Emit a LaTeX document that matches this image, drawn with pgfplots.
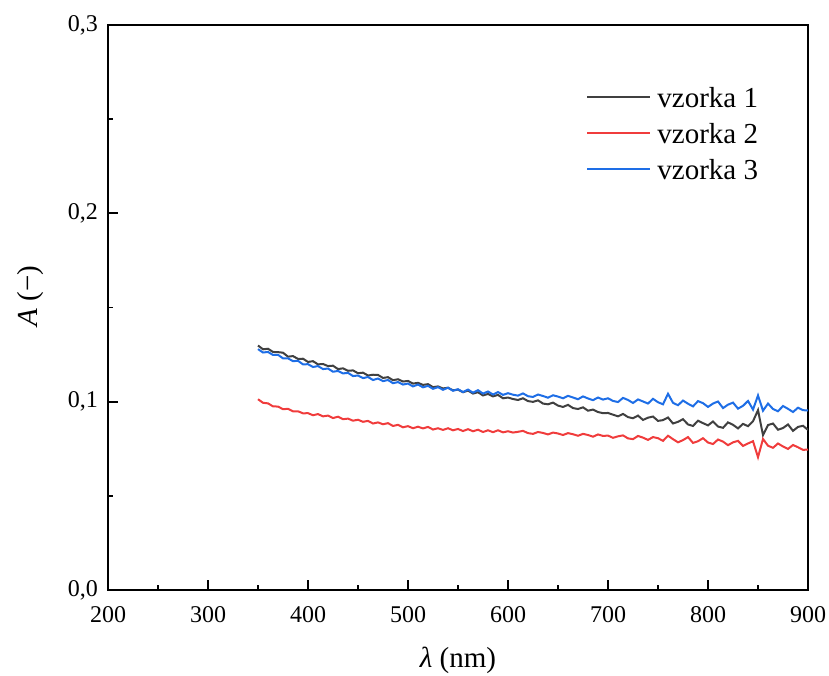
\documentclass[border=0pt]{standalone}
\usepackage{fontspec}
\setmainfont{Liberation Serif}
\usepackage{pgfplots}
\pgfplotsset{compat=1.18}
\usepackage{pgfplotstable}
\usetikzlibrary{calc}
\definecolor{cA}{RGB}{64,64,64}
\definecolor{cB}{RGB}{240,60,60}
\definecolor{cC}{RGB}{30,110,230}

\pgfplotstableread{
x a b c
350 .1298 .1013 .1279
355 .1278 .0994 .1261
360 .1281 .0991 .1264
365 .1264 .0975 .1248
370 .1263 .0974 .1249
375 .1260 .0960 .1230
380 .1239 .0962 .1230
385 .1242 .0949 .1215
390 .1227 .0949 .1217
395 .1228 .0938 .1198
400 .1211 .0939 .1199
405 .1215 .0928 .1184
410 .1198 .0934 .1189
415 .1200 .0922 .1173
420 .1189 .0926 .1176
425 .1191 .0913 .1159
430 .1173 .0920 .1163
435 .1177 .0907 .1150
440 .1164 .0910 .1153
445 .1166 .0899 .1136
450 .1151 .0904 .1139
455 .1154 .0893 .1125
460 .1139 .0898 .1131
465 .1143 .0884 .1115
470 .1142 .0890 .1123
475 .1126 .0880 .1109
480 .1130 .0886 .1115
485 .1114 .0871 .1098
490 .1119 .0877 .1104
495 .1107 .0864 .1091
500 .1110 .0870 .1096
505 .1096 .0859 .1081
510 .1100 .0867 .1091
515 .1089 .0858 .1076
520 .1093 .0866 .1084
525 .1077 .0852 .1068
530 .1081 .0859 .1077
535 .1070 .0850 .1063
540 .1074 .0859 .1074
545 .1060 .0848 .1058
550 .1064 .0855 .1066
555 .1050 .0844 .1051
560 .1059 .0854 .1064
565 .1043 .0843 .1048
570 .1050 .0851 .1061
575 .1033 .0839 .1043
580 .1041 .0848 .1054
585 .1028 .0838 .1038
590 .1036 .0848 .1051
595 .1018 .0837 .1036
600 .1022 .0843 .1045
605 .1014 .0836 .1037
610 .1009 .0840 .1032
615 .1018 .0845 .1044
620 .1003 .0833 .1029
625 .0999 .0829 .1025
630 .1007 .0839 .1038
635 .0990 .0834 .1030
640 .0986 .0826 .1021
645 .0995 .0836 .1034
650 .0979 .0831 .1027
655 .0972 .0823 .1018
660 .0983 .0833 .1031
665 .0966 .0827 .1022
670 .0961 .0819 .1013
675 .0970 .0829 .1028
680 .0952 .0823 .1017
685 .0958 .0814 .1008
690 .0945 .0826 .1022
695 .0939 .0818 .1011
700 .0940 .0820 .1018
705 .0931 .0808 .1004
710 .0922 .0816 .0998
715 .0935 .0821 .1020
720 .0918 .0805 .1009
725 .0912 .0801 .0993
730 .0926 .0818 .1012
735 .0903 .0809 .1001
740 .0915 .0797 .0990
745 .0921 .0812 .1015
750 .0898 .0806 .0997
755 .0902 .0792 .0986
760 .0916 .0819 .1042
765 .0884 .0801 .0994
770 .0893 .0784 .0981
775 .0907 .0796 .1006
780 .0879 .0812 .0989
785 .0871 .0781 .0975
790 .0899 .0790 .1003
795 .0886 .0806 .0992
800 .0874 .0783 .0972
805 .0895 .0775 .0990
810 .0868 .0799 .1001
815 .0861 .0788 .0966
820 .0890 .0769 .0984
825 .0877 .0784 .0995
830 .0858 .0792 .0963
835 .0882 .0765 .0978
840 .0870 .0778 .1004
845 .0896 .0790 .0958
850 .0955 .0705 .1033
855 .0822 .0802 .0952
860 .0876 .0766 .0990
865 .0884 .0755 .0961
870 .0851 .0778 .0949
875 .0860 .0762 .0977
880 .0879 .0749 .0962
885 .0845 .0770 .0945
890 .0866 .0758 .0968
895 .0872 .0744 .0955
900 .0850 .0746 .0953
}\data

\begin{document}
\begin{tikzpicture}
\begin{axis}[
  name=ax,
  scale only axis,
  width=350pt, height=282.5pt,
  xmin=200, xmax=900, ymin=0, ymax=0.3,
  xtick={200,300,...,900},
  ytick={0,0.1,0.2,0.3},
  minor x tick num=1, minor y tick num=1,
  tick align=inside,
  xtick pos=left, ytick pos=left,
  major tick length=5pt, minor tick length=2.5pt,
  axis line style={line width=1pt},
  every tick/.style={line width=0.9pt, black},
  tick label style={font=\fontsize{12}{14}\selectfont},
  /pgf/number format/assume math mode=true,
  /pgf/number format/1000 sep={},
  yticklabel={\pgfmathprintnumber[fixed, fixed zerofill, precision=1, use comma]{\tick}},
  xlabel={{\itshape λ} (nm)},
  ylabel={{\itshape A} (−)},
  every axis x label/.style={at={(rel axis cs:0.5,0)}, anchor=center, yshift=-35pt, font=\fontsize{14.5}{16}\selectfont},
  every axis y label/.style={at={(rel axis cs:0,0.52)}, xshift=-28.5pt, rotate=90, anchor=south, font=\fontsize{14.5}{16}\selectfont},
  every x tick label/.append style={yshift=-4.5pt},
  every y tick label/.append style={xshift=-1.5pt},
]
\addplot[cA, line width=1pt] table[x=x, y=a] {\data};
\addplot[cB, line width=1pt] table[x=x, y=b] {\data};
\addplot[cC, line width=1pt] table[x=x, y=c] {\data};
\end{axis}
\begin{scope}[shift={(ax.south west)}, font=\fontsize{14.5}{16}\selectfont]
  \draw[cA, line width=1pt] (239.5pt,246.5pt) -- (271pt,246.5pt);
  \node[anchor=base west, inner sep=0pt] at (274.5pt,241pt) {vzorka 1};
  \draw[cB, line width=1pt] (239.5pt,228.5pt) -- (271pt,228.5pt);
  \node[anchor=base west, inner sep=0pt] at (274.5pt,223pt) {vzorka 2};
  \draw[cC, line width=1pt] (239.5pt,210.5pt) -- (271pt,210.5pt);
  \node[anchor=base west, inner sep=0pt] at (274.5pt,205pt) {vzorka 3};
\end{scope}
\pgfresetboundingbox
\path ($(ax.south west)+(-54pt,-42.5pt)$) rectangle ($(ax.north east)+(10.5pt,12.5pt)$);
\end{tikzpicture}
\end{document}
